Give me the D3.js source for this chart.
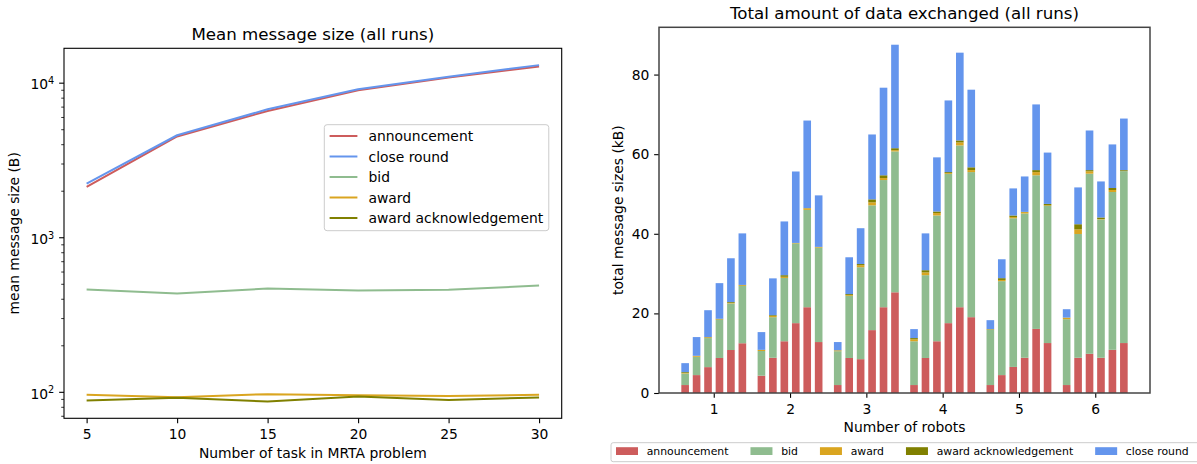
<!DOCTYPE html>
<html><head><meta charset="utf-8">
<script src="https://cdn.jsdelivr.net/npm/d3@7"></script>
<style>
body{margin:0;background:#fff;}
svg{display:block;font-family:"DejaVu Sans",sans-serif;}
</style></head><body>
<svg id="c" width="1197" height="464"></svg>
<script>
// ---------- data: left chart (mean message size, bytes) ----------
const tasks=[5,10,15,20,25,30];
const lineSeries=["announcement","close round","bid","award","award acknowledgement"];
const meanAnnouncement=[2120,4490,6560,8920,10800,12740];
const meanCloseRound=[2220,4570,6730,9060,10930,12990];
const meanBid=[459,432,466,452,457,487];
const meanAward=[95.6,92.3,96.6,95.2,93.8,95.6];
const meanAwardAck=[88.0,91.6,86.6,93.1,88.5,92.0];
const logTicks=[100,1000,10000];

// ---------- data: right chart (total kB, per robot count, 6 task sizes each) ----------
const robots=[1,2,3,4,5,6];
const barSeries=["announcement","bid","award","award acknowledgement","close round"];
const announcementKB=[
 [2.0,4.5,6.5,8.8,10.8,12.5],
 [4.35,8.85,13.0,17.55,21.55,12.8],
 [2.0,8.8,8.5,15.8,21.55,25.3],
 [2.0,8.8,13.0,17.55,21.55,19.05],
 [2.0,4.5,6.55,8.85,16.1,12.55],
 [2.0,8.85,9.85,8.85,10.85,12.55]];
const bidKB=[
 [2.9,4.6,7.3,9.6,11.7,14.4],
 [6.2,10.2,15.9,20.0,24.45,23.7],
 [8.5,15.6,23.1,31.35,31.95,35.4],
 [11.0,20.8,31.6,37.5,40.65,36.45],
 [13.85,23.6,37.35,36.25,38.6,34.45],
 [16.55,31.1,45.25,34.75,39.65,43.2]];
const awardKB=[
 [0.15,0.2,0.2,0.1,0.15,0.2],
 [0.25,0.3,0.3,0.1,0.4,0.15],
 [0.2,0.2,0.5,0.75,0.5,0.3],
 [0.5,0.7,0.6,0.2,0.75,0.5],
 [0.1,0.3,0.3,0.35,0.8,0.15],
 [0.35,1.15,0.6,0.1,0.5,0.05]];
const awardAckKB=[
 [0.2,0.05,0.05,0.15,0.2,0.05],
 [0.05,0.2,0.4,0.05,0.05,0.05],
 [0.05,0.25,0.3,0.75,0.7,0.5],
 [0.3,0.55,0.4,0.25,0.5,0.7],
 [0.1,0.45,0.4,0.05,0.5,0.35],
 [0.05,1.3,0.3,0.4,0.5,0.2]];
const closeRoundKB=[
 [2.25,4.7,6.75,8.95,11.0,12.95],
 [4.45,9.25,13.5,17.95,22.0,12.95],
 [2.05,9.25,9.0,16.3,22.0,26.0],
 [2.25,9.25,13.6,18.0,22.05,19.5],
 [2.25,4.75,6.8,8.9,16.5,12.9],
 [2.1,9.25,9.95,9.05,10.95,12.95]];
const kbTicks=[0,20,40,60,80];

const colors={"announcement":"#CD5C5C","bid":"#8FBC8F","award":"#DAA520","award acknowledgement":"#808000","close round":"#6495ED"};

// ---------- setup ----------
const svg=d3.select("#c");
const FS=13.89, TS=16.67;
function styleAxis(g){
  g.select(".domain").remove();
  g.selectAll(".tick line").attr("stroke","#000").attr("stroke-width",1.1);
  g.selectAll(".tick text").attr("fill","#000").style("font-size",FS+"px").style("font-family","DejaVu Sans");
}

// ================= LEFT CHART =================
const L={x0:64,x1:561.7,y0:48.3,y1:418.3};
const lineData={"announcement":meanAnnouncement,"close round":meanCloseRound,"bid":meanBid,"award":meanAward,"award acknowledgement":meanAwardAck};
const xm=(d3.max(tasks)-d3.min(tasks))*0.05;
const xL=d3.scaleLinear().domain([d3.min(tasks)-xm,d3.max(tasks)+xm]).range([L.x0,L.x1]);
const allMean=Object.values(lineData).flat();
const lo=Math.log10(d3.min(allMean)), hi=Math.log10(d3.max(allMean)), lm=(hi-lo)*0.05;
const yL=d3.scaleLog().domain([10**(lo-lm),10**(hi+lm)]).range([L.y1,L.y0]);

const gL=svg.append("g");
gL.append("g").attr("transform",`translate(0,${L.y1})`)
  .call(d3.axisBottom(xL).tickValues(tasks).tickFormat(d3.format("d")).tickSize(4.86).tickPadding(4.86).tickSizeOuter(0))
  .call(styleAxis).selectAll(".tick text").attr("dy","0.8em");
// minor log ticks
const minors=[];
for(let e=1;e<=4;e++)for(let k=2;k<=9;k++){const v=k*10**e; if(v>=yL.domain()[0]&&v<=yL.domain()[1]) minors.push(v);}
gL.append("g").attr("transform",`translate(${L.x0},0)`)
  .call(d3.axisLeft(yL).tickValues(minors).tickSize(2.78).tickFormat("").tickSizeOuter(0))
  .call(g=>{g.select(".domain").remove();g.selectAll(".tick line").attr("stroke","#000").attr("stroke-width",0.8);});
const yAx=gL.append("g").attr("transform",`translate(${L.x0},0)`)
  .call(d3.axisLeft(yL).tickValues(logTicks).tickSize(4.86).tickPadding(4.86).tickFormat(()=>"").tickSizeOuter(0))
  .call(styleAxis);
yAx.selectAll(".tick text").each(function(d){
  const t=d3.select(this).attr("dy","0.45em");
  t.append("tspan").text("10");
  t.append("tspan").attr("dy","-0.55em").style("font-size","9.7px").text(Math.round(Math.log10(d)));
});

// lines
const lineGen=d3.line().x((d,i)=>xL(tasks[i])).y(d=>yL(d));
lineSeries.forEach(s=>{
  gL.append("path").datum(lineData[s]).attr("d",lineGen)
    .attr("fill","none").attr("stroke",colors[s]).attr("stroke-width",2).attr("stroke-linejoin","round");
});
gL.append("rect").attr("x",L.x0).attr("y",L.y0).attr("width",L.x1-L.x0).attr("height",L.y1-L.y0)
  .attr("fill","none").attr("stroke","#000").attr("stroke-width",1.1);

// titles/labels
gL.append("text").attr("x",(L.x0+L.x1)/2).attr("y",40).attr("text-anchor","middle").style("font-size",TS+"px").text("Mean message size (all runs)");
gL.append("text").attr("x",(L.x0+L.x1)/2).attr("y",457.5).attr("text-anchor","middle").style("font-size",FS+"px").text("Number of task in MRTA problem");
gL.append("text").attr("transform",`translate(19,${(L.y0+L.y1)/2}) rotate(-90)`).attr("text-anchor","middle").style("font-size",FS+"px").text("mean message size (B)");

// legend left
{
  const lg=gL.append("g");
  const box=lg.append("rect").attr("x",324.3).attr("y",124.7).attr("height",106).attr("rx",2.8)
    .attr("fill","#fff").attr("fill-opacity",0.8).attr("stroke","#ccc").attr("stroke-width",1);
  let maxW=0;
  lineSeries.forEach((s,i)=>{
    const cy=136+i*20.5;
    lg.append("line").attr("x1",329.6).attr("x2",357.4).attr("y1",cy).attr("y2",cy).attr("stroke",colors[s]).attr("stroke-width",2);
    const t=lg.append("text").attr("x",368.5).attr("y",cy+5.3).style("font-size",FS+"px").text(s);
    maxW=Math.max(maxW,t.node().getComputedTextLength());
  });
  box.attr("width",368.5+maxW+5.6-324.3);
}

// ================= RIGHT CHART =================
const R={x0:659,x1:1150,y0:27.3,y1:393};
const barW=0.1, step=0.15;
const rows=[];
robots.forEach((r,gi)=>tasks.forEach((t,i)=>{
  rows.push({robot:r,idx:i,"announcement":announcementKB[gi][i],"bid":bidKB[gi][i],"award":awardKB[gi][i],
    "award acknowledgement":awardAckKB[gi][i],"close round":closeRoundKB[gi][i]});
}));
const stacked=d3.stack().keys(barSeries)(rows);
const off=i=>(i-(tasks.length-1)/2)*step;
const bxMin=d3.min(robots)+off(0)-barW/2, bxMax=d3.max(robots)+off(tasks.length-1)+barW/2;
const bm=(bxMax-bxMin)*0.05;
const xR=d3.scaleLinear().domain([bxMin-bm,bxMax+bm]).range([R.x0,R.x1]);
const maxTot=d3.max(stacked[stacked.length-1],d=>d[1]);
const yR=d3.scaleLinear().domain([0,maxTot*1.05]).range([R.y1,R.y0]);

const gR=svg.append("g");
gR.append("g").attr("transform",`translate(0,${R.y1})`)
  .call(d3.axisBottom(xR).tickValues(robots).tickFormat(d3.format("d")).tickSize(4.86).tickPadding(4.86).tickSizeOuter(0))
  .call(styleAxis).selectAll(".tick text").attr("dy","0.8em");
gR.append("g").attr("transform",`translate(${R.x0},0)`)
  .call(d3.axisLeft(yR).tickValues(kbTicks).tickSize(4.86).tickPadding(4.86).tickSizeOuter(0))
  .call(styleAxis);

stacked.forEach(layer=>{
  gR.append("g").attr("fill",colors[layer.key]).selectAll("rect").data(layer).join("rect")
    .attr("x",d=>xR(d.data.robot+off(d.data.idx)-barW/2))
    .attr("width",d=>xR(barW)-xR(0))
    .attr("y",d=>yR(d[1]))
    .attr("height",d=>yR(d[0])-yR(d[1]));
});
gR.append("rect").attr("x",R.x0).attr("y",R.y0).attr("width",R.x1-R.x0).attr("height",R.y1-R.y0)
  .attr("fill","none").attr("stroke","#444").attr("stroke-width",1.5);

gR.append("text").attr("x",(R.x0+R.x1)/2).attr("y",19.3).attr("text-anchor","middle").style("font-size",TS+"px").text("Total amount of data exchanged (all runs)");
gR.append("text").attr("x",(R.x0+R.x1)/2).attr("y",431.5).attr("text-anchor","middle").style("font-size",FS+"px").text("Number of robots");
gR.append("text").attr("transform",`translate(622.5,${(R.y0+R.y1)/2}) rotate(-90)`).attr("text-anchor","middle").style("font-size",FS+"px").text("total message sizes (kB)");

// bottom legend
{
  const LF=10.85;
  const lg=svg.append("g");
  lg.append("rect").attr("x",611).attr("y",442.7).attr("width",620).attr("height",19).attr("rx",2.2)
    .attr("fill","#fff").attr("stroke","#ccc").attr("stroke-width",1);
  let x=616;
  barSeries.forEach(s=>{
    lg.append("rect").attr("x",x).attr("y",447.2).attr("width",22).attr("height",7.8).attr("fill",colors[s]);
    const t=lg.append("text").attr("x",x+22+8.7).attr("y",455.3).style("font-size",LF+"px").text(s);
    x+=22+8.7+t.node().getComputedTextLength()+22;
  });
}
</script>
</body></html>
